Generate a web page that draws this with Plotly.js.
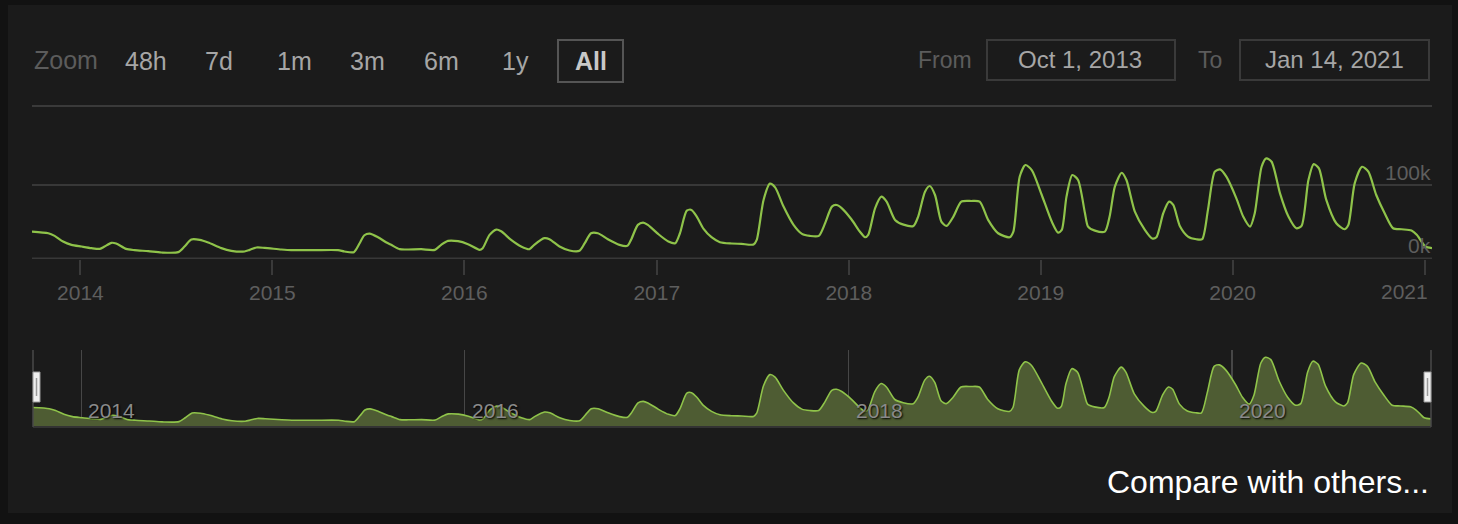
<!DOCTYPE html>
<html>
<head>
<meta charset="utf-8">
<script src="https://cdn.plot.ly/plotly-3.0.1.min.js"></script>
<style>
  html, body { margin: 0; padding: 0; background: #1b1b1b; overflow: hidden; }
  #chart { width: 1458px; height: 524px; }
</style>
</head>
<body>
<div id="chart"></div>
<script>
// ---- Data (players, in thousands) ----
const dates = [
  '2013-10-01','2013-11-01','2013-11-13','2013-11-29','2013-12-15','2014-01-03','2014-01-22','2014-02-07','2014-02-16','2014-03-01',
  '2014-03-10','2014-03-29','2014-04-14','2014-05-10','2014-06-04','2014-07-06','2014-07-18','2014-07-31','2014-08-16','2014-09-01',
  '2014-09-26','2014-10-15','2014-11-09','2014-11-19','2014-12-02','2014-12-17','2015-01-18','2015-02-06','2015-03-22','2015-05-06',
  '2015-05-18','2015-06-05','2015-06-16','2015-06-25','2015-07-05','2015-07-21','2015-08-06','2015-08-15','2015-08-31','2015-09-16',
  '2015-10-11','2015-11-06','2015-11-18','2015-12-01','2015-12-20','2016-01-08','2016-01-30','2016-02-05','2016-02-18','2016-03-02',
  '2016-03-11','2016-03-30','2016-04-18','2016-05-04','2016-05-13','2016-06-01','2016-06-11','2016-06-30','2016-07-19','2016-08-07',
  '2016-08-17','2016-08-29','2016-09-11','2016-09-30','2016-10-22','2016-11-06','2016-11-13','2016-11-26','2016-12-06','2016-12-15',
  '2017-01-04','2017-01-23','2017-02-05','2017-02-14','2017-02-27','2017-03-08','2017-03-18','2017-03-31','2017-04-15','2017-05-01',
  '2017-05-23','2017-06-11','2017-07-04','2017-07-10','2017-07-23','2017-08-04','2017-08-14','2017-08-30','2017-09-18','2017-10-04',
  '2017-10-19','2017-11-05','2017-11-17','2017-11-30','2017-12-09','2017-12-19','2018-01-06','2018-01-22','2018-02-01','2018-02-07',
  '2018-02-20','2018-03-04','2018-03-14','2018-03-30','2018-04-15','2018-05-04','2018-05-13','2018-05-26','2018-06-04','2018-06-14',
  '2018-06-26','2018-07-06','2018-07-19','2018-08-03','2018-08-22','2018-09-07','2018-09-23','2018-10-12','2018-11-03','2018-11-10',
  '2018-11-22','2018-12-03','2018-12-15','2019-01-03','2019-01-22','2019-02-03','2019-02-10','2019-02-19','2019-03-02','2019-03-13',
  '2019-03-26','2019-04-01','2019-04-14','2019-05-03','2019-05-12','2019-05-22','2019-06-04','2019-06-13','2019-06-29','2019-07-18',
  '2019-08-01','2019-08-09','2019-08-22','2019-09-02','2019-09-10','2019-09-23','2019-10-08','2019-10-24','2019-11-04','2019-11-15',
  '2019-11-28','2019-12-08','2019-12-20','2020-01-08','2020-01-21','2020-02-03','2020-02-12','2020-02-25','2020-03-05','2020-03-15',
  '2020-03-31','2020-04-16','2020-05-01','2020-05-11','2020-05-24','2020-06-03','2020-06-13','2020-06-27','2020-07-16','2020-08-01',
  '2020-08-08','2020-08-20','2020-09-03','2020-09-15','2020-09-30','2020-10-16','2020-11-01','2020-11-17','2020-12-06','2020-12-16',
  '2020-12-25','2021-01-01','2021-01-14'
];
const players = [
  36.5, 34.2, 30.6, 23.0, 18.5, 16.2, 14.0, 13.0, 16.2, 21.2,
  20.3, 13.0, 11.3, 9.9, 8.1, 8.6, 16.2, 25.7, 25.2, 21.6,
  14.0, 10.4, 9.5, 11.7, 14.9, 14.4, 12.2, 11.3, 11.3, 11.3,
  9.5, 8.6, 20.7, 31.5, 33.8, 28.8, 21.6, 18.5, 12.6, 12.2,
  12.6, 11.7, 18.5, 23.9, 23.4, 19.4, 11.7, 14.0, 32.0, 39.2,
  36.9, 25.2, 16.2, 12.6, 18.5, 27.5, 26.1, 16.2, 10.8, 10.4,
  20.7, 34.2, 34.2, 26.1, 18.5, 17.1, 25.2, 45.5, 48.6, 45.5,
  32.9, 23.0, 20.7, 34.2, 64.9, 65.8, 56.8, 40.1, 28.8, 22.1,
  20.3, 19.8, 18.9, 25.2, 79.3, 101.4, 96.4, 70.3, 45.5, 33.3,
  30.6, 30.6, 47.7, 70.3, 72.5, 68.0, 53.2, 36.5, 28.8, 32.0,
  68.0, 83.8, 77.0, 52.3, 45.9, 44.1, 56.8, 90.5, 98.2, 86.0,
  50.0, 44.1, 56.8, 77.0, 77.9, 77.0, 52.3, 34.2, 28.8, 36.5,
  110.8, 126.6, 119.8, 86.0, 50.0, 35.1, 38.7, 83.8, 113.1, 106.3,
  62.0, 43.2, 37.8, 36.5, 56.8, 97.3, 116.2, 106.3, 63.5, 38.7,
  27.0, 28.8, 61.3, 77.0, 72.5, 43.2, 29.7, 26.1, 26.1, 65.8,
  117.6, 120.7, 110.8, 81.5, 56.8, 43.2, 61.3, 124.3, 135.6, 131.1,
  88.3, 56.8, 41.0, 44.1, 106.3, 127.9, 122.0, 79.3, 47.7, 39.6,
  45.5, 101.8, 124.3, 117.6, 86.0, 61.3, 41.0, 39.6, 37.8, 32.0,
  23.0, 16.2, 14.0
];
const yearTicks = ['2014-01-01','2015-01-01','2016-01-01','2017-01-01','2018-01-01','2019-01-01','2020-01-01','2021-01-01'];
const yearLabels = ['2014','2015','2016','2017','2018','2019','2020',''];
const lastYearLabel = '2021';
const navTicks = ['2014-01-01','2016-01-01','2018-01-01','2020-01-01'];
const navLabels = ['2014','2016','2018','2020'];
const yTickVals = [0, 100];
const yTickLabels = ['0k', '100k'];
const zoomButtons = ['48h','7d','1m','3m','6m','1y','All'];
const rangeFrom = 'Oct 1, 2013';
const rangeTo = 'Jan 14, 2021';
const xRange = ['2013-10-01', '2021-01-14'];

// ---- Layout helpers (pixel -> paper) ----
const W = 1458, H = 524;
const px = x => x / W;
const py = y => 1 - y / H;
const FONT = 'Liberation Sans, Arial, Helvetica, sans-serif';
const lineColor = '#8fc34a';

const traces = [
  {
    x: dates, y: players, xaxis: 'x', yaxis: 'y', type: 'scatter', mode: 'lines',
    line: { color: lineColor, width: 2.2, shape: 'spline', smoothing: 0.7 },
    hoverinfo: 'skip'
  },
  {
    x: dates, y: players, xaxis: 'x2', yaxis: 'y2', type: 'scatter', mode: 'lines',
    fill: 'tozeroy', fillcolor: '#4e5c33',
    line: { color: lineColor, width: 1.6, shape: 'spline', smoothing: 0.7 },
    hoverinfo: 'skip'
  }
];

const shapes = [];
const annotations = [];

// textured border strips
const strip = (x0, y0, x1, y1) => shapes.push({type:'rect', xref:'paper', yref:'paper', x0:px(x0), x1:px(x1), y0:py(y1), y1:py(y0), fillcolor:'#121212', line:{width:0}, layer:'below'});
strip(0, 0, 8, 524); strip(0, 513, 1458, 524); strip(0, 0, 1458, 5); strip(1452, 0, 1458, 524);

// separator line
shapes.push({type:'line', xref:'paper', yref:'paper', x0:px(32), x1:px(1432), y0:py(106), y1:py(106), line:{color:'#3a3a3a', width:2}});

// baseline (0k) grid line of the main plot
shapes.push({type:'line', xref:'paper', yref:'y', x0:px(32), x1:px(1432), y0:0, y1:0, line:{color:'#383838', width:2}, layer:'below'});

// zoom label and buttons
annotations.push({xref:'paper', yref:'paper', x:px(32), y:py(60), xanchor:'left', yanchor:'middle', text:'Zoom', showarrow:false, font:{family:FONT, size:25, color:'#5c5c5c'}});
const btnCenters = [146, 219, 294, 367, 441, 515, 591];
zoomButtons.forEach((b, i) => {
  const isAll = b === 'All';
  annotations.push({xref:'paper', yref:'paper', x:px(btnCenters[i]), y:py(61), xanchor:'center', yanchor:'middle',
    text: isAll ? '<b>' + b + '</b>' : b, showarrow:false,
    font:{family:FONT, size:25, color: isAll ? '#c8c8c8' : '#a6a6a6'}});
});
shapes.push({type:'rect', xref:'paper', yref:'paper', x0:px(558), x1:px(623), y0:py(82), y1:py(40), line:{color:'#555', width:2}});

// From / To boxes
annotations.push({xref:'paper', yref:'paper', x:px(945), y:py(60), xanchor:'center', yanchor:'middle', text:'From', showarrow:false, font:{family:FONT, size:23, color:'#5c5c5c'}});
annotations.push({xref:'paper', yref:'paper', x:px(1210), y:py(60), xanchor:'center', yanchor:'middle', text:'To', showarrow:false, font:{family:FONT, size:23, color:'#5c5c5c'}});
shapes.push({type:'rect', xref:'paper', yref:'paper', x0:px(987), x1:px(1175), y0:py(80), y1:py(40), line:{color:'#3a3a3a', width:2}});
shapes.push({type:'rect', xref:'paper', yref:'paper', x0:px(1240), x1:px(1429), y0:py(80), y1:py(40), line:{color:'#3a3a3a', width:2}});
annotations.push({xref:'paper', yref:'paper', x:px(1080), y:py(60), xanchor:'center', yanchor:'middle', text:rangeFrom, showarrow:false, font:{family:FONT, size:24, color:'#a6a6a6'}});
annotations.push({xref:'paper', yref:'paper', x:px(1334), y:py(60), xanchor:'center', yanchor:'middle', text:rangeTo, showarrow:false, font:{family:FONT, size:24, color:'#a6a6a6'}});

// y-axis labels (inside, above grid lines)
yTickVals.forEach((v, i) => {
  annotations.push({xref:'paper', yref:'y', x:px(1433), y:v, xanchor:'right', yanchor:'bottom', yshift:-1,
    text:yTickLabels[i], showarrow:false, font:{family:FONT, size:21, color:'#5e5e5e'}});
});
// last x label (justified inside)
annotations.push({xref:'paper', yref:'paper', x:px(1430), y:py(291), xanchor:'right', yanchor:'middle', text:lastYearLabel, showarrow:false, font:{family:FONT, size:21, color:'#5e5e5e'}});

// navigator labels
navTicks.forEach((t, i) => {
  annotations.push({xref:'x2', yref:'paper', x:t, xshift:5, y:py(410), xanchor:'left', yanchor:'middle',
    text:navLabels[i], showarrow:false, font:{family:FONT, size:21, color:'#8a8a8a', shadow:'1px 1px 2px #000'}});
});

// navigator outline and handles
shapes.push({type:'line', xref:'paper', yref:'paper', x0:px(33), x1:px(1431), y0:py(427), y1:py(427), line:{color:'#333', width:2}});
shapes.push({type:'line', xref:'paper', yref:'paper', x0:px(33), x1:px(33), y0:py(427), y1:py(350), line:{color:'#4a4a4a', width:1.5}});
shapes.push({type:'line', xref:'paper', yref:'paper', x0:px(1431), x1:px(1431), y0:py(427), y1:py(350), line:{color:'#4a4a4a', width:1.5}});
[[33, 40], [1424, 1431]].forEach(([a, b]) => {
  shapes.push({type:'rect', xref:'paper', yref:'paper', x0:px(a), x1:px(b), y0:py(402), y1:py(372), fillcolor:'#efefef', line:{color:'#9a9a9a', width:1}});
  shapes.push({type:'line', xref:'paper', yref:'paper', x0:px((a+b)/2), x1:px((a+b)/2), y0:py(396), y1:py(378), line:{color:'#999', width:1.5}});
});

// compare link
annotations.push({xref:'paper', yref:'paper', x:px(1431), y:py(482), xanchor:'right', yanchor:'middle', text:'Compare with others...', showarrow:false, font:{family:FONT, size:32, color:'#ffffff'}});

const layout = {
  width: W, height: H,
  margin: {l:0, r:0, t:0, b:0},
  paper_bgcolor: '#1b1b1b', plot_bgcolor: 'rgba(0,0,0,0)',
  showlegend: false,
  xaxis: {
    type:'date', domain:[px(32), px(1432)], range:xRange, anchor:'y',
    tickvals: yearTicks, ticktext: yearLabels,
    ticks:'outside', ticklen:15, tickwidth:2, tickcolor:'#3a3a3a',
    showgrid:false, zeroline:false, showline:false,
    tickfont:{family:FONT, size:21, color:'#5e5e5e'}, fixedrange:true
  },
  yaxis: {
    domain:[py(259), py(110)], range:[-0.7, (259 - 110) / 0.738 - 0.7], anchor:'x',
    tickvals: yTickVals, showticklabels:false, ticks:'',
    showgrid:true, gridcolor:'#383838', gridwidth:2, zeroline:false, showline:false, fixedrange:true
  },
  xaxis2: {
    type:'date', domain:[px(33), px(1431)], range:xRange, anchor:'y2',
    tickvals: navTicks, showticklabels:false, ticks:'',
    showgrid:true, gridcolor:'#474747', gridwidth:1.5, zeroline:false, showline:false, fixedrange:true
  },
  yaxis2: {
    domain:[py(426), py(350)], range:[0, 150], anchor:'x2',
    showgrid:false, showticklabels:false, ticks:'', zeroline:false, showline:false, fixedrange:true
  },
  shapes: shapes,
  annotations: annotations
};

Plotly.newPlot('chart', traces, layout, {staticPlot:true, displayModeBar:false});
</script>
</body>
</html>
